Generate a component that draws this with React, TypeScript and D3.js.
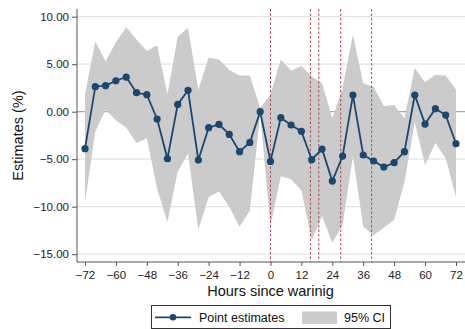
import { useRef, useEffect } from "react";
import * as d3 from "d3";

const hours = d3.range(-72, 73, 4);
const estimates = [
  -3.89, 2.63, 2.74, 3.26, 3.65, 2.0, 1.79, -0.77, -4.95, 0.77, 2.25, -5.09,
  -1.68, -1.33, -2.39, -4.21, -3.23, 0.0, -5.23, -0.63, -1.4, -2.07, -5.05, -3.93,
  -7.3, -4.67, 1.75, -4.56, -5.19, -5.82, -5.37, -4.21, 1.75, -1.3, 0.32, -0.35, -3.37,
];
const ciUpper = [
  1.8, 7.4, 5.3, 7.3, 8.9, 7.6, 6.4, 7.0, 1.8, 7.9, 8.8, 2.3,
  5.7, 5.5, 4.4, 3.8, 3.8, 0.4, 1.8, 5.5, 4.3, 4.8, 3.7, 3.0,
  -0.7, 2.5, 8.1, 3.0, 2.6, 0.6, 0.7, -0.7, 4.6, 3.1, 3.9, 3.8, 2.3,
];
const ciLower = [
  -9.5, -2.1, 0.2, -0.9, -1.7, -3.3, -2.8, -8.1, -11.6, -6.3, -4.4, -12.4,
  -9.0, -8.4, -10.0, -12.1, -10.4, -0.3, -12.0, -6.8, -7.1, -8.3, -13.5, -11.0,
  -13.8, -11.9, -4.7, -12.1, -13.0, -12.2, -11.4, -7.4, -1.1, -5.6, -3.3, -4.9, -9.0,
];
const xTicks = d3.range(-72, 73, 12);
const yTicks = [-15, -10, -5, 0, 5, 10];
const warnings = [0, 15.5, 18.75, 27.25, 39.25];

const W = 465;
const H = 329;
const font = "Arial, 'Liberation Sans', sans-serif";

export default function App() {
  const ref = useRef(null);

  useEffect(() => {
    const svg = d3.select(ref.current);
    svg.selectAll("*").remove();

    const left = 77, right = 465, top = 9, bottom = 262;
    const x = d3.scaleLinear().domain([-75.1, 75.5]).range([left, right]);
    const y = d3.scaleLinear().domain([-15, 10]).range([254.2, 16.7]);

    const data = hours.map((h, i) => ({ h, est: estimates[i], lo: ciLower[i], hi: ciUpper[i] }));

    // gridlines
    svg.append("g")
      .selectAll("line")
      .data(yTicks)
      .join("line")
      .attr("x1", left)
      .attr("x2", right)
      .attr("y1", d => y(d))
      .attr("y2", d => y(d))
      .attr("stroke", d => (d === 0 ? "#a9a9a9" : "#e3e3e3"))
      .attr("stroke-width", d => (d === 0 ? 1.3 : 1.2));

    // CI band
    const area = d3.area<any>()
      .x(d => x(d.h))
      .y0(d => y(d.lo))
      .y1(d => y(d.hi));
    svg.append("path")
      .datum(data)
      .attr("d", area)
      .attr("fill", "#cbcbcb");

    // warning lines
    svg.append("g")
      .selectAll("line")
      .data(warnings)
      .join("line")
      .attr("x1", d => x(d))
      .attr("x2", d => x(d))
      .attr("y1", top)
      .attr("y2", bottom)
      .attr("stroke", "#b04555")
      .attr("stroke-width", 1)
      .attr("stroke-dasharray", "2.5,2");

    // estimates line
    const line = d3.line<any>()
      .x(d => x(d.h))
      .y(d => y(d.est));
    svg.append("path")
      .datum(data)
      .attr("d", line)
      .attr("fill", "none")
      .attr("stroke", "#1a476f")
      .attr("stroke-width", 1.8);
    svg.append("g")
      .selectAll("circle")
      .data(data)
      .join("circle")
      .attr("cx", d => x(d.h))
      .attr("cy", d => y(d.est))
      .attr("r", 3.6)
      .attr("fill", "#1a476f");

    // axes
    const yAxis = svg.append("g")
      .attr("transform", `translate(${left},0)`)
      .call(d3.axisLeft(y).tickValues(yTicks).tickFormat(d3.format(".2f")).tickSize(5).tickSizeOuter(0));
    yAxis.select(".domain").attr("d", `M0,${top}V${bottom}`).attr("stroke", "#555");
    yAxis.selectAll(".tick line").attr("stroke", "#555");
    yAxis.selectAll("text")
      .attr("x", -8)
      .attr("font-family", font)
      .attr("font-size", 11.5)
      .attr("fill", "#222");

    const xAxis = svg.append("g")
      .attr("transform", `translate(0,${bottom})`)
      .call(d3.axisBottom(x).tickValues(xTicks).tickSize(4).tickSizeOuter(0));
    xAxis.select(".domain").attr("d", `M${left},0H${right}`).attr("stroke", "#555");
    xAxis.selectAll(".tick line").attr("stroke", "#555");
    xAxis.selectAll("text")
      .attr("y", 9)
      .attr("font-family", font)
      .attr("font-size", 11.5)
      .attr("fill", "#222");

    // axis titles
    svg.append("text")
      .attr("x", x(0))
      .attr("y", 296)
      .attr("text-anchor", "middle")
      .attr("font-family", font)
      .attr("font-size", 14.5)
      .attr("fill", "#111")
      .text("Hours since warinig");
    svg.append("text")
      .attr("transform", `translate(23,${(top + bottom) / 2}) rotate(-90)`)
      .attr("text-anchor", "middle")
      .attr("font-family", font)
      .attr("font-size", 14.5)
      .attr("fill", "#111")
      .text("Estimates (%)");

    // legend
    const lg = svg.append("g");
    lg.append("rect")
      .attr("x", 151.5).attr("y", 305.5).attr("width", 239).attr("height", 23)
      .attr("fill", "white").attr("stroke", "#333").attr("stroke-width", 1);
    lg.append("line")
      .attr("x1", 155).attr("x2", 191).attr("y1", 317.3).attr("y2", 317.3)
      .attr("stroke", "#1a476f").attr("stroke-width", 1.8);
    lg.append("circle")
      .attr("cx", 173).attr("cy", 317.3).attr("r", 3.3).attr("fill", "#1a476f");
    lg.append("text")
      .attr("x", 199).attr("y", 322)
      .attr("font-family", font).attr("font-size", 12.5).attr("fill", "#111")
      .text("Point estimates");
    lg.append("rect")
      .attr("x", 302).attr("y", 311.5).attr("width", 35).attr("height", 12.5)
      .attr("fill", "#cbcbcb");
    lg.append("text")
      .attr("x", 344).attr("y", 322)
      .attr("font-family", font).attr("font-size", 12.5).attr("fill", "#111")
      .text("95% CI");
  }, []);

  return (
    <svg
      ref={ref}
      width={W}
      height={H}
      style={{ position: "absolute", left: 0, top: 0, background: "white" }}
    />
  );
}
